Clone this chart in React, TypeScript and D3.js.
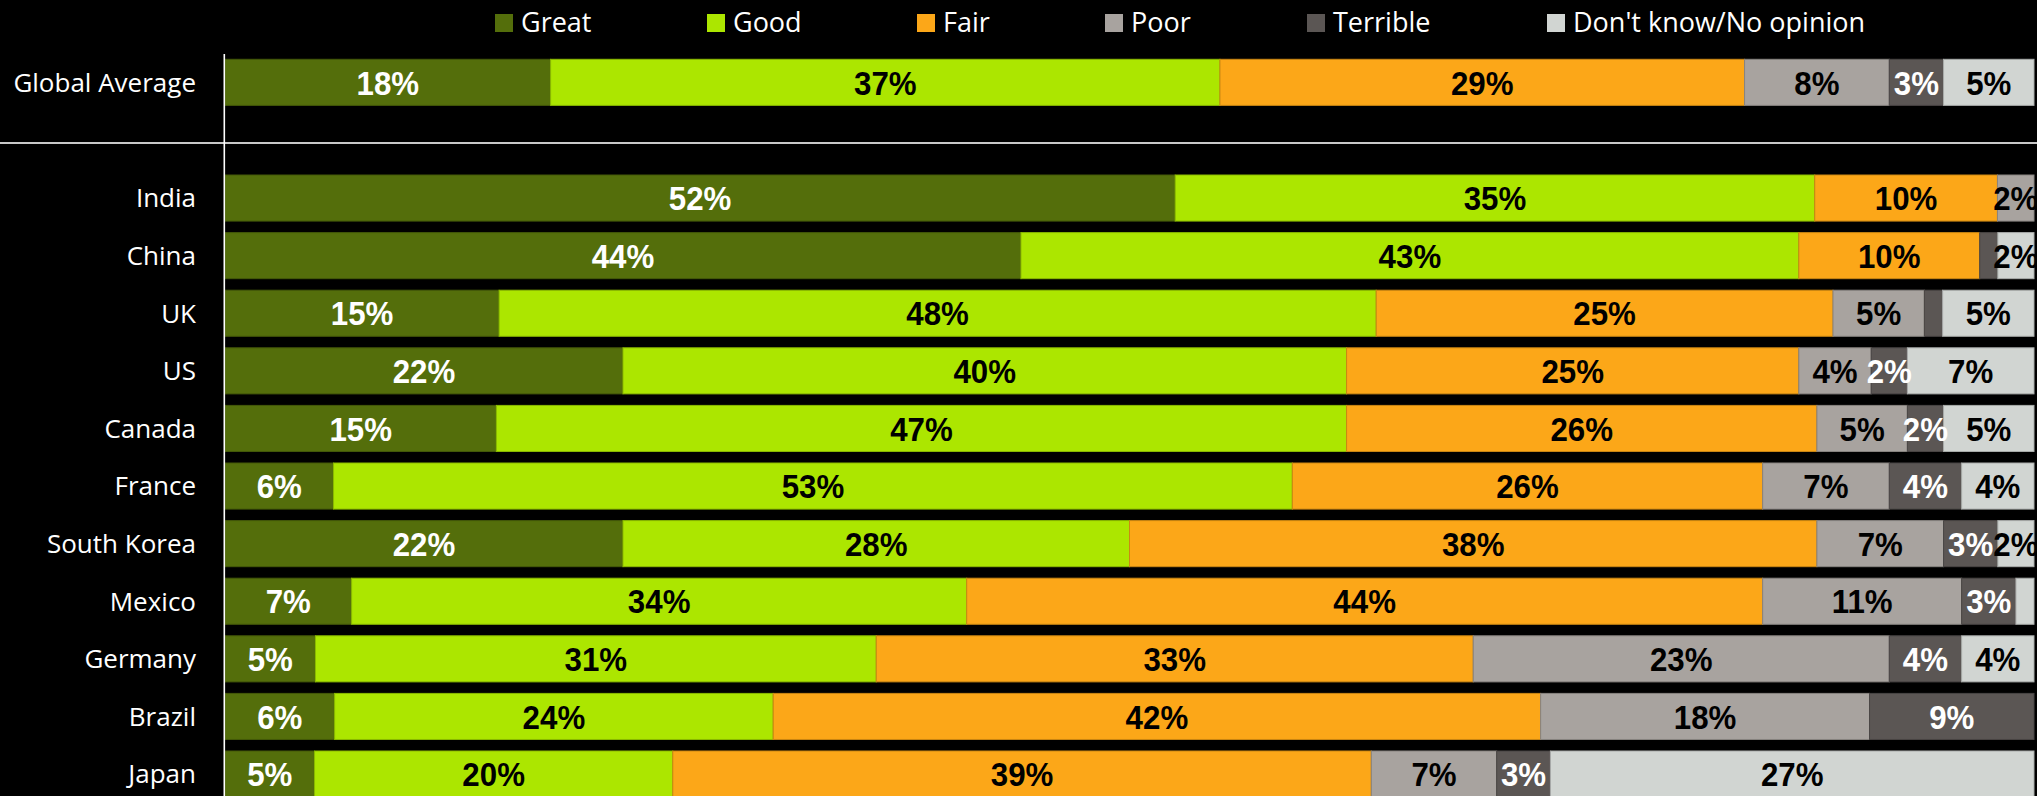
import React, { useEffect } from 'react';
import * as d3 from 'd3';

const W = 2037;
const H = 796;

// ---- data ----
const seriesKeys = ['great', 'good', 'fair', 'poor', 'terrible', 'dontKnow'];
const seriesNames = ['Great', 'Good', 'Fair', 'Poor', 'Terrible', "Don't know/No opinion"];
const seriesColors = ['#546e0b', '#ace600', '#fca718', '#a8a39f', '#5b5654', '#d1d5d2'];
const labelColors = ['#ffffff', '#000000', '#000000', '#000000', '#ffffff', '#000000'];

const globalCategories = ['Global Average'];
const globalGreat = [18];
const globalGood = [37];
const globalFair = [29];
const globalPoor = [8];
const globalTerrible = [3];
const globalDontKnow = [5];

const countries = ['India', 'China', 'UK', 'US', 'Canada', 'France', 'South Korea', 'Mexico', 'Germany', 'Brazil', 'Japan'];
const greatValues = [52, 44, 15, 22, 15, 6, 22, 7, 5, 6, 5];
const goodValues = [35, 43, 48, 40, 47, 53, 28, 34, 31, 24, 20];
const fairValues = [10, 10, 25, 25, 26, 26, 38, 44, 33, 42, 39];
const poorValues = [2, 0, 5, 4, 5, 7, 7, 11, 23, 18, 7];
const terribleValues = [0, 1, 1, 2, 2, 4, 3, 3, 4, 9, 3];
const dontKnowValues = [0, 2, 5, 7, 5, 4, 2, 1, 4, 0, 27];

// legend layout (x of each swatch)
const legendX = [495, 707, 917, 1105, 1307, 1547];

type Row = { name: string; [k: string]: any };

function buildRows(names: string[], cols: number[][]): Row[] {
  return names.map((n, i) => {
    const r: Row = { name: n };
    seriesKeys.forEach((k, j) => (r[k] = cols[j][i]));
    return r;
  });
}

const globalRows = buildRows(globalCategories, [globalGreat, globalGood, globalFair, globalPoor, globalTerrible, globalDontKnow]);
const countryRows = buildRows(countries, [greatValues, goodValues, fairValues, poorValues, terribleValues, dontKnowValues]);

const X0 = 225;
const X1 = 2034;
const x = d3.scaleLinear().domain([0, 1]).range([X0, X1]);

const stacker = d3.stack<Row>().keys(seriesKeys).offset(d3.stackOffsetExpand);

const yGlobal = d3.scaleBand<string>().domain(globalCategories).range([53.54, 111.14]).paddingInner(0.2).paddingOuter(0.1);
const yCountry = d3.scaleBand<string>().domain(countries).range([169.24, 802.84]).paddingInner(0.2).paddingOuter(0.1);

const catFont = '"Open Sans", "Noto Sans", sans-serif';
const valFont = '"Liberation Sans", Arial, Helvetica, sans-serif';
const VAL_SIZE = 34;

function Bars({ rows, y }: { rows: Row[]; y: d3.ScaleBand<string> }) {
  const stacked = stacker(rows);
  const bw = y.bandwidth();
  return (
    <g>
      {stacked.map((layer, si) => (
        <g key={layer.key}>
          {layer.map((d, i) => {
            const raw = rows[i][layer.key] as number;
            if (!raw) return null;
            const xa = x(d[0]);
            const xb = x(d[1]);
            const top = y(rows[i].name)!;
            const fill = seriesColors[si];
            return (
              <rect
                key={i}
                x={xa}
                y={top}
                width={xb - xa}
                height={bw}
                fill={fill}
                stroke={d3.color(fill)!.darker(0.6).formatHex()}
                strokeWidth={1}
              />
            );
          })}
        </g>
      ))}
      {stacked.map((layer, si) => (
        <g key={'l' + layer.key}>
          {layer.map((d, i) => {
            const raw = rows[i][layer.key] as number;
            if (raw < 2) return null;
            const cx = (x(d[0]) + x(d[1])) / 2;
            const cy = y(rows[i].name)! + bw / 2;
            return (
              <text
                key={i}
                transform={`translate(${cx},${cy + 0.716 * VAL_SIZE / 2}) scale(0.92,1)`}
                textAnchor="middle"
                fontFamily={valFont}
                fontWeight="bold"
                fontSize={VAL_SIZE}
                fill={labelColors[si]}
              >
                {raw + '%'}
              </text>
            );
          })}
        </g>
      ))}
      {rows.map((r) => (
        <text
          key={'c' + r.name}
          x={196}
          y={y(r.name)! + bw / 2 + 9.3}
          textAnchor="end"
          fontFamily={catFont}
          fontSize={26}
          fill="#ffffff"
        >
          {r.name}
        </text>
      ))}
    </g>
  );
}

export default function App() {
  useEffect(() => {
    document.body.style.margin = '0';
    document.body.style.background = '#000';
    document.body.style.overflow = 'hidden';
  }, []);
  return (
    <svg
      width={W}
      height={H}
      viewBox={`0 0 ${W} ${H}`}
      style={{ position: 'absolute', left: 0, top: 0, display: 'block', background: '#000' }}
    >
      <rect x={0} y={0} width={W} height={H} fill="#000" />
      {/* legend */}
      <g>
        {seriesNames.map((n, i) => (
          <g key={n}>
            <rect x={legendX[i]} y={14} width={18} height={18} fill={seriesColors[i]} />
            <text x={legendX[i] + 26} y={31.7} fontFamily={catFont} fontSize={27} fill="#ffffff">
              {n}
            </text>
          </g>
        ))}
      </g>
      <Bars rows={globalRows} y={yGlobal} />
      <Bars rows={countryRows} y={yCountry} />
      {/* separator */}
      <line x1={0} x2={W} y1={143} y2={143} stroke="#c8c8c8" strokeWidth={2} />
      {/* vertical axis */}
      <line x1={224.3} x2={224.3} y1={54} y2={H} stroke="#ffffff" strokeWidth={1.6} />
    </svg>
  );
}
